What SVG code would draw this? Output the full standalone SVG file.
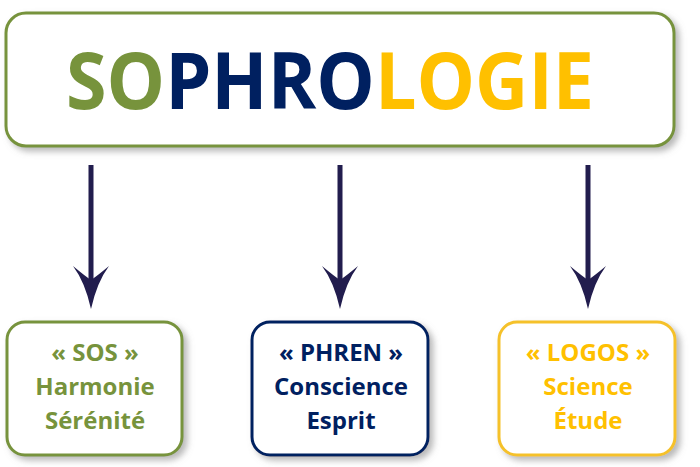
<svg xmlns="http://www.w3.org/2000/svg" width="700" height="467" viewBox="0 0 700 467">
<style>
.box{fill:#ffffff;stroke-width:3;filter:url(#sh)}
.lbl{font-family:"Open Sans","DejaVu Sans",sans-serif;font-weight:700;font-size:24px;text-anchor:middle;stroke:none}
.title{font-family:"Open Sans","DejaVu Sans",sans-serif;font-weight:700;font-size:78px}
.arr{fill:#221d4e}
</style>
<defs>
<filter id="sh" x="-10%" y="-10%" width="130%" height="130%">
<feDropShadow dx="4" dy="4" stdDeviation="3" flood-color="#7f7f7f" flood-opacity="0.55"/>
</filter>
</defs>
<rect width="700" height="467" fill="#ffffff"/>
<g id="node-sophrologie">
<rect class="box" x="6" y="13" width="668" height="133" rx="20" stroke="#77933c"/>
<text class="title" x="66" y="109" textLength="528" lengthAdjust="spacingAndGlyphs"><tspan fill="#77933c">SO</tspan><tspan fill="#002060">PHRO</tspan><tspan fill="#ffc000">LOGIE</tspan></text>
</g>
<g id="connectors">
<g class="arr">
<rect x="88.5" y="165" width="5" height="116"/>
<path d="M73 266 Q85 276 91 280 Q97 276 109 266 Q97 282 91 309 Q85 282 73 266 Z"/>
<rect x="337.5" y="165" width="5" height="116"/>
<path d="M322 266 Q334 276 340 280 Q346 276 358 266 Q346 282 340 309 Q334 282 322 266 Z"/>
<rect x="585.5" y="165" width="5" height="116"/>
<path d="M570 266 Q582 276 588 280 Q594 276 606 266 Q594 282 588 309 Q582 282 570 266 Z"/>
</g>
</g>
<g id="node-sos">
<rect class="box" x="7" y="322" width="175" height="133" rx="18" stroke="#77933c"/>
<g class="lbl" fill="#77933c">
<text x="95" y="361">« SOS »</text>
<text x="95" y="395">Harmonie</text>
<text x="95" y="429">Sérénité</text>
</g>
</g>
<g id="node-phren">
<rect class="box" x="252" y="322" width="176" height="133" rx="18" stroke="#002060"/>
<g class="lbl" fill="#002060">
<text x="341" y="361">« PHREN »</text>
<text x="341" y="395">Conscience</text>
<text x="341" y="429">Esprit</text>
</g>
</g>
<g id="node-logos">
<rect class="box" x="499" y="322" width="176" height="133" rx="18" stroke="#f5c12a"/>
<g class="lbl" fill="#ffc000">
<text x="588" y="361">« LOGOS »</text>
<text x="588" y="395">Science</text>
<text x="588" y="429">Étude</text>
</g>
</g>
</svg>
